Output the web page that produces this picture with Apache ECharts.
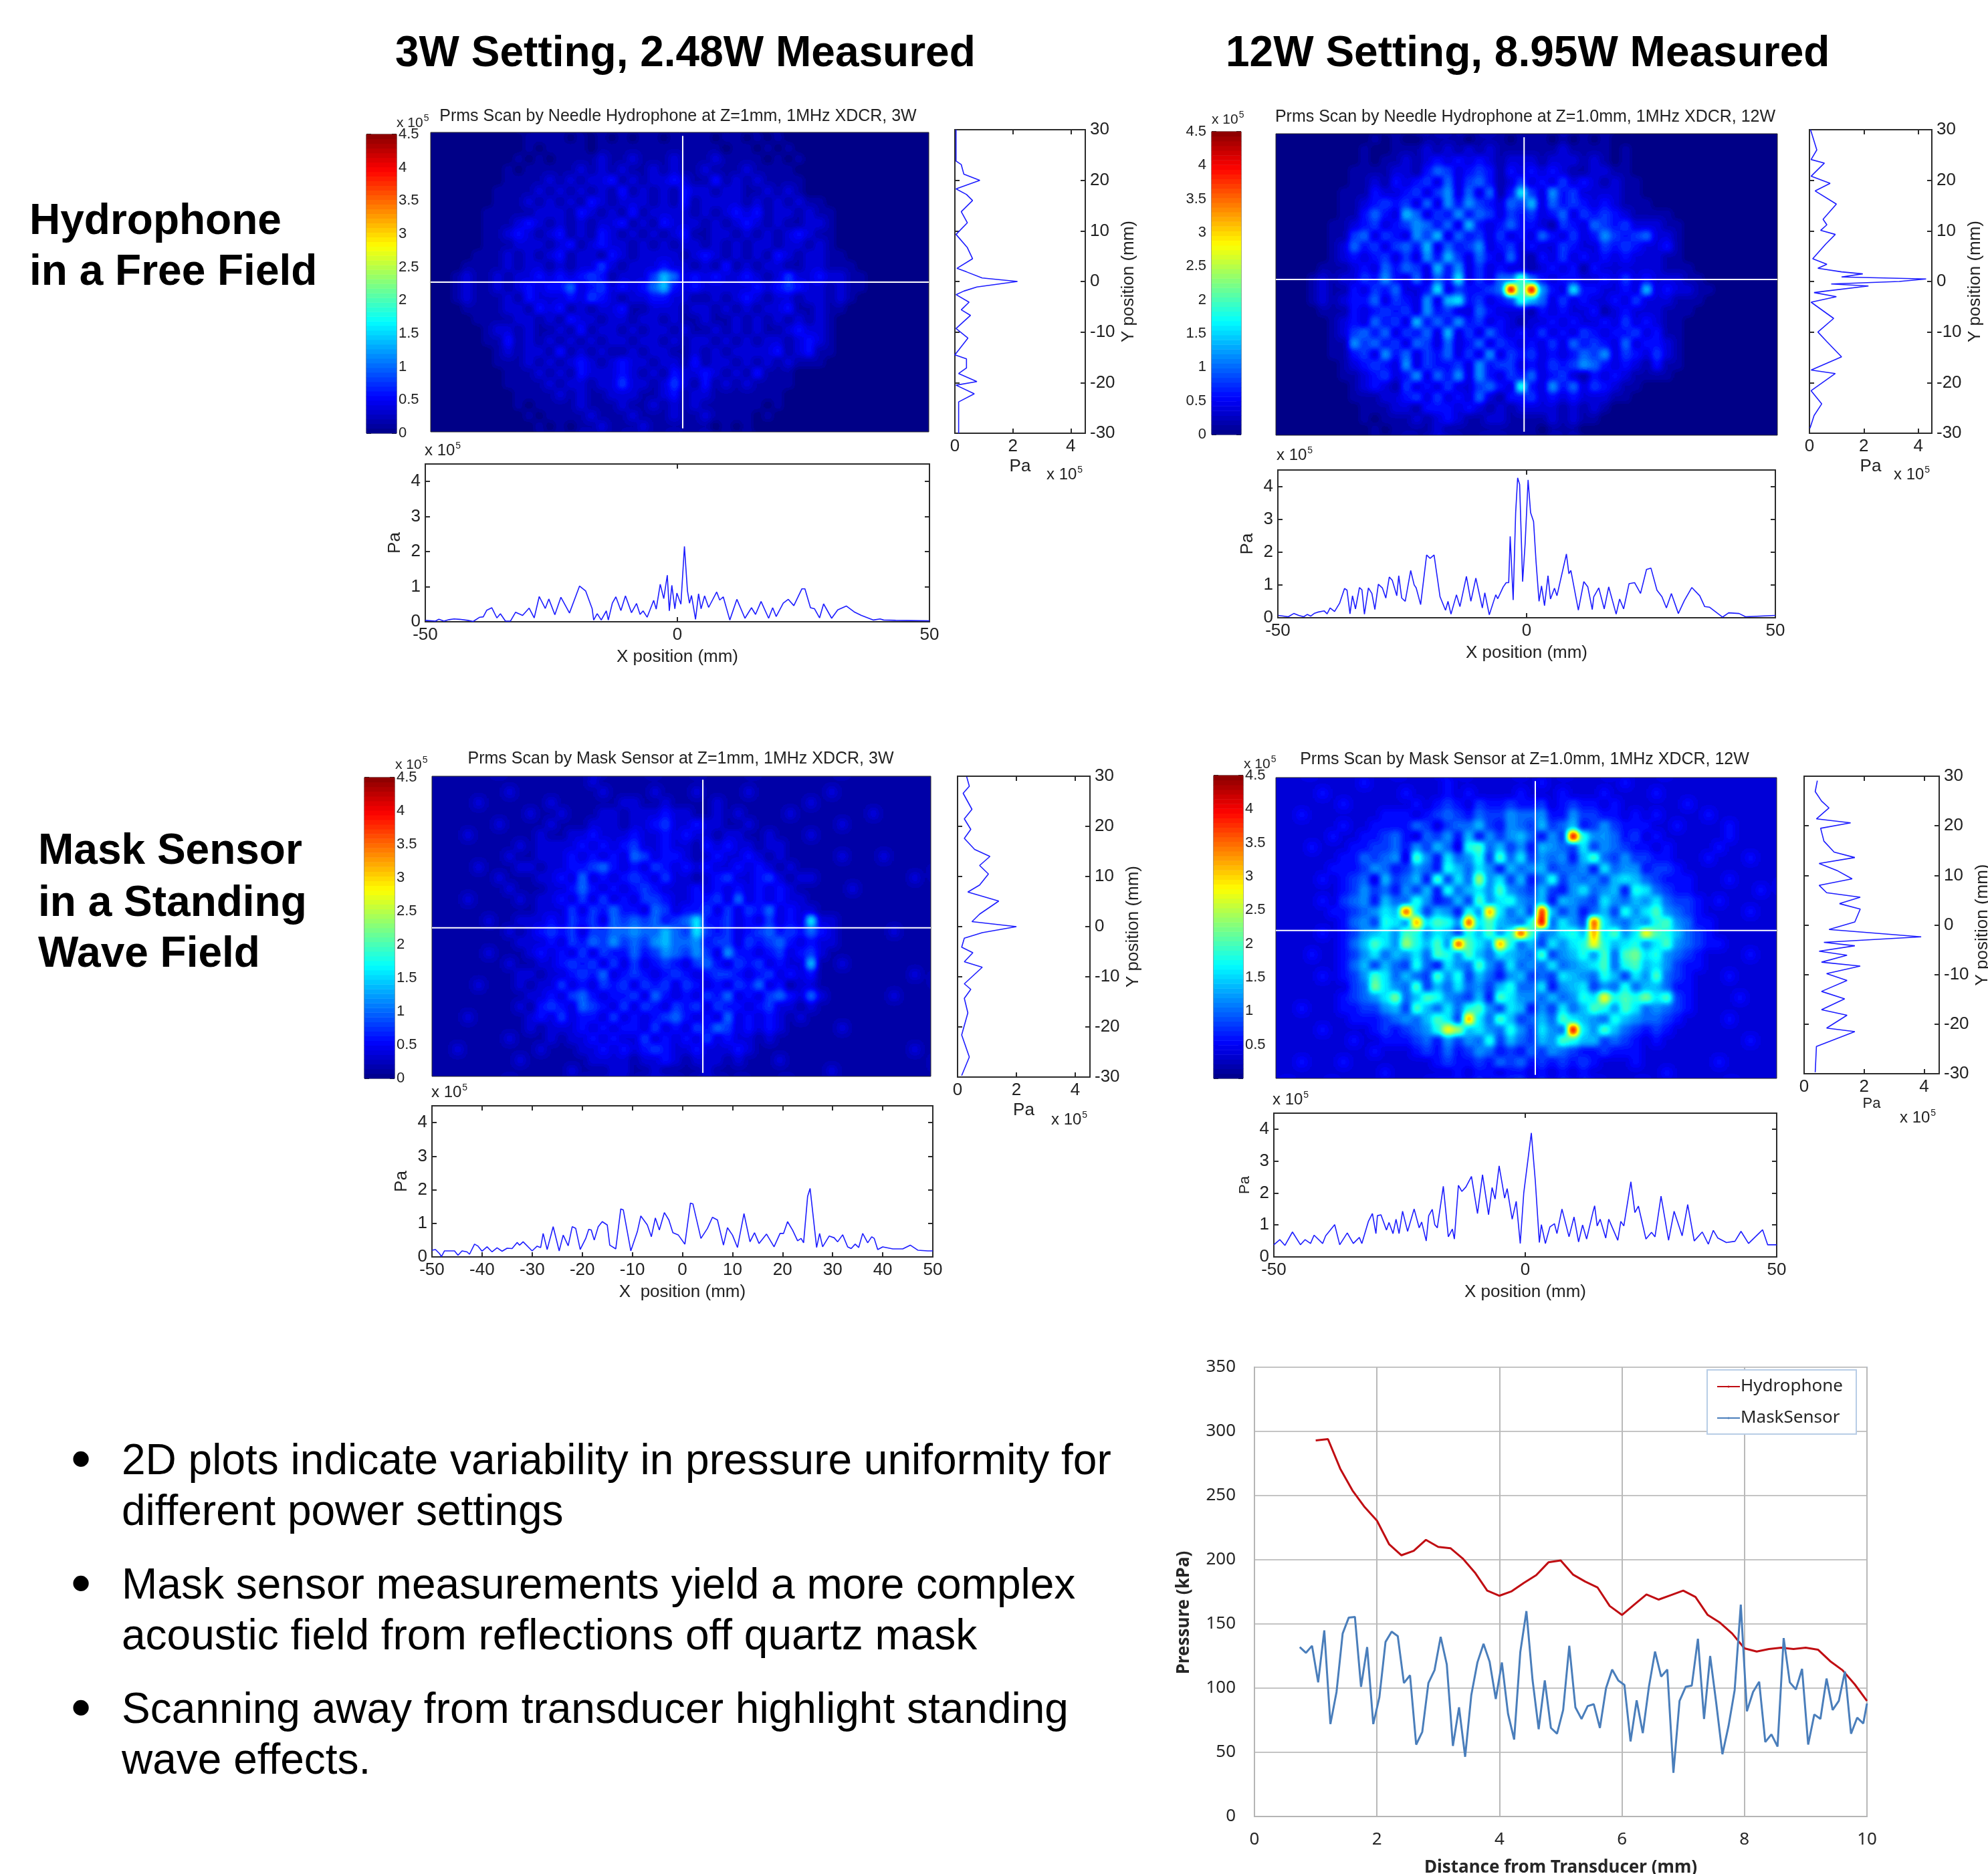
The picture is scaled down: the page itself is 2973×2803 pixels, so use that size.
<!DOCTYPE html>
<html><head><meta charset="utf-8"><title>Pressure scans</title>
<script src="https://cdn.jsdelivr.net/npm/echarts@6/dist/echarts.min.js"></script>
<style>html,body{margin:0;padding:0;background:#fff}#c{width:2973px;height:2803px}</style></head>
<body><div id="c"></div>
<script>
// ---- DATA (pressure in 1e5 Pa, position in mm) ----
const xProfileA=[[-50,.04],[-48,.02],[-47.3,.07],[-46.3,.02],[-45.3,.06],[-44.3,.08],[-43.2,.07],[-41.6,.04],[-40.5,.01],[-39.2,.13],[-38.5,.14],[-37.8,.33],[-36.8,.4],[-35.8,.11],[-35.1,.23],[-34.1,.02],[-33.1,.02],[-32.1,.27],[-30.7,.18],[-29.4,.39],[-28.4,.11],[-27.4,.72],[-26.2,.38],[-25.5,.65],[-24.3,.2],[-23.1,.7],[-21.4,.25],[-19.4,1.02],[-18.2,.88],[-16.9,.37],[-16.6,.05],[-15.9,.23],[-15.1,.05],[-14.1,.31],[-13.7,.05],[-12.9,.53],[-12.2,.71],[-11.2,.32],[-10.3,.74],[-9.1,.26],[-8.1,.52],[-7.4,.21],[-6.8,.31],[-6,.13],[-4.7,.61],[-4.2,.36],[-3.4,1.07],[-2.7,.66],[-2,1.33],[-1.6,.31],[-1.1,1.04],[-.5,.37],[-.1,.82],[.7,.5],[1.4,2.15],[2,.88],[2.4,.53],[2.8,.75],[3.6,.07],[4.2,.8],[4.7,.37],[5.4,.74],[6.2,.41],[7.8,.85],[8.4,.62],[9.1,.71],[10.4,.05],[11.8,.64],[13.4,.1],[14.7,.4],[15.5,.21],[16.6,.58],[18.1,.1],[18.9,.4],[19.6,.15],[21,.53],[22,.64],[23.1,.46],[24.7,.94],[25.3,.94],[26.4,.4],[27.2,.37],[28.2,.11],[29,.51],[30.6,.1],[31.8,.34],[33.5,.45],[35.2,.27],[36.5,.18],[38.9,.05],[40.2,.08],[40.9,.05],[43.3,.04],[50,.03]];
const xProfileB=[[-49.9,.07],[-47.9,.03],[-46.8,.13],[-45.8,.07],[-44.8,.03],[-44.1,.1],[-43.4,.05],[-42.7,.13],[-42,.17],[-40.7,.21],[-40.1,.12],[-39.5,.3],[-38.6,.19],[-37.6,.44],[-36.6,.89],[-36.1,.84],[-35.5,.12],[-35,.67],[-34.4,.27],[-33.6,.92],[-33.1,.85],[-32.6,.11],[-31.8,.91],[-31.1,.74],[-30.5,.25],[-29.8,1.02],[-29,.91],[-28.3,.6],[-27.6,1.24],[-27,1.14],[-26.1,.67],[-25.7,1.28],[-25.1,.6],[-24.4,.5],[-23.3,1.44],[-22.6,1],[-22.2,.91],[-21.3,.4],[-20.1,1.91],[-19.4,1.81],[-18.6,1.91],[-17.4,.64],[-16.3,.23],[-15.8,.5],[-15.2,.11],[-14.1,.7],[-13.4,.34],[-12.1,1.26],[-11.2,.5],[-10.2,1.21],[-8.9,.3],[-8.4,.76],[-7.5,.09],[-6.2,.7],[-5.8,.58],[-4.7,.94],[-4.1,1.07],[-3.6,1.07],[-3.3,2.48],[-2.7,.54],[-2.2,3.2],[-1.8,4.26],[-1.4,4.06],[-.8,1.1],[-.3,2.25],[.3,4.2],[.8,3.2],[1.4,2.93],[1.9,1.7],[2.5,.5],[3,.97],[3.6,.37],[4.3,1.28],[4.8,.57],[5.6,.9],[6.1,.67],[8,1.94],[8.5,1.34],[8.9,1.44],[10.4,.23],[11.5,1.1],[12.3,.94],[13.2,.25],[13.5,.64],[14.5,.91],[15.6,.27],[16.5,.94],[18,.11],[18.7,.57],[19.5,.27],[20.6,1.04],[21.7,1.07],[22.9,.74],[24.1,1.47],[25,1.51],[26.2,.84],[27.2,.64],[28.1,.3],[29.1,.74],[30.5,.13],[31.7,.52],[33.2,.92],[34.8,.67],[35.8,.34],[36.8,.32],[39.4,.02],[40.6,.15],[42.7,.13],[44,.03],[50,.07]];
const xProfileC=[[-50,.2],[-49.3,.22],[-48.5,.1],[-48.1,.01],[-47.5,.18],[-45.5,.18],[-44.8,.05],[-44,.18],[-43,.15],[-42.5,.08],[-41.5,.38],[-40.8,.32],[-40,.17],[-39,.3],[-38,.15],[-37,.27],[-36,.17],[-35,.26],[-34,.25],[-33,.43],[-32.5,.35],[-31.8,.45],[-30,.18],[-29,.32],[-28.3,.28],[-27.8,.7],[-27,.22],[-25.8,.9],[-24.6,.18],[-23.8,.65],[-22.8,.33],[-22,.9],[-21.3,.85],[-20.4,.22],[-19.3,.55],[-18.7,.82],[-18.2,.8],[-17.6,.5],[-16.8,.9],[-16,1.05],[-15,.95],[-14.5,.35],[-13.3,.24],[-12.3,1.43],[-11.8,1.4],[-10.3,.18],[-9,.75],[-8.3,1.22],[-7,.95],[-6.2,.6],[-5.4,1.16],[-4.6,.8],[-3.6,1.32],[-2.7,1.1],[-1.9,.72],[-.8,.65],[.5,.38],[1.6,1.6],[2.1,1.58],[3.7,.55],[5,.85],[6,1.18],[7,1.1],[8.2,.35],[9,.87],[10,.65],[11,.28],[12.3,1.29],[13.5,.45],[14.4,.72],[15.3,.4],[16.8,.68],[18.3,.3],[19.5,.7],[20.2,.7],[21,1.05],[22,.8],[23,.48],[23.7,.55],[24.2,.42],[25,1.8],[25.5,2.04],[26.8,.28],[27.4,.7],[28,.3],[29.3,.62],[30.3,.57],[31,.45],[32,.66],[33,.3],[33.7,.25],[34.5,.38],[35.2,.28],[36,.7],[37,.42],[37.8,.6],[38.3,.55],[39,.22],[40,.3],[42,.24],[44,.24],[45.5,.35],[47,.2],[49,.18],[50,.18]];
const xProfileD=[[-50,.38],[-48.8,.54],[-47.8,.36],[-46.3,.78],[-44.7,.38],[-43.8,.54],[-42.7,.42],[-42,.68],[-40.3,.42],[-39.7,.66],[-37.9,1.01],[-36.9,.38],[-35.4,.75],[-34.2,.42],[-33,.61],[-32.5,.42],[-31.2,1.11],[-30.4,1.36],[-29.7,.73],[-29.4,1.29],[-28.7,1.32],[-27.6,.84],[-27.1,1.08],[-26.3,.73],[-25.7,1.18],[-25.1,.73],[-24.4,1.43],[-23.4,.8],[-22.1,1.5],[-21.1,.91],[-20.6,1.09],[-19.7,.5],[-19.2,1.29],[-18.5,1.49],[-18,1.01],[-17.5,.91],[-16.3,2.21],[-15.3,.63],[-14.5,.87],[-14.1,.56],[-13.3,2.24],[-12.6,2.05],[-11.8,2.19],[-10.7,2.52],[-9.5,1.36],[-8.5,2.57],[-7.3,1.32],[-6.6,2.17],[-6,1.81],[-5.2,2.85],[-4.1,1.84],[-3.6,2.14],[-2.6,1.18],[-1.8,1.74],[-1,.42],[-.3,2],[1.2,3.88],[2,2.37],[2.8,.45],[3.2,1.01],[4,.42],[4.9,.94],[5.8,1.04],[6.3,.73],[7.3,1.5],[8.7,.63],[9.7,1.25],[10.6,.47],[11.4,1],[12.2,.56],[13.5,1.43],[13.8,1.6],[14.3,.97],[14.9,1.18],[16,.59],[16.6,1.18],[18.4,.52],[19,1.11],[19.6,.97],[21,2.35],[21.8,1.39],[22.5,1.59],[24,.56],[25.1,.77],[25.8,.63],[27,1.9],[28.5,.52],[29.6,1.43],[31.2,.66],[32.3,1.64],[33.6,.5],[35.2,.78],[36.4,.4],[37.4,.83],[38.3,.59],[40,.45],[41.7,.49],[42.9,.8],[44.4,.42],[47.2,.85],[48.2,.38],[50,.38]];
const yProfileA=[[.04,30],[.04,23.8],[.22,23.1],[.31,21.2],[.86,20],[.04,18.3],[.4,17.2],[.61,16],[.22,13.8],[.43,11.6],[.04,9.3],[.43,6.7],[.61,4.5],[.07,2.6],[.4,1.9],[.94,.7],[2.16,0],[.76,-1.1],[.31,-1.9],[.04,-2.6],[.49,-4.1],[.22,-5.6],[.54,-6.7],[.04,-9.3],[.45,-11.2],[0,-14.5],[.4,-15.3],[.4,-17.1],[.13,-18.2],[.76,-19.8],[.04,-20.5],[.67,-22.2],[.13,-23.8],[.13,-30]];
const yProfileB=[[.04,30],[.27,26],[.06,24.1],[.55,23.4],[.06,20.8],[.76,19.4],[.21,17.9],[.99,15.3],[.5,12.3],[.64,11.2],[.41,10.1],[.95,9.3],[.6,7.4],[.12,4.5],[.64,3.4],[.31,2.6],[1.18,1.9],[1.96,1.5],[1.18,.9],[4.29,.5],[3.3,0],[.8,-.5],[2.17,-.9],[.6,-1.9],[.17,-2.2],[.99,-3],[.06,-4.1],[.89,-7.3],[.31,-10],[.64,-11.9],[1.18,-14.9],[.06,-17.5],[.95,-18.2],[.06,-21.6],[.45,-24.2],[.17,-26.5],[.02,-29]];
const yProfileC=[[.31,29.9],[.4,28],[.19,26.6],[.49,23.4],[.23,21.5],[.45,19.4],[.23,17.6],[.58,15.4],[1.1,14],[.75,12.2],[1.05,10.5],[.75,8.3],[.35,6.9],[1.4,5.1],[.75,2.5],[.49,1],[2,0],[.84,-1.2],[.23,-2.3],[.14,-4.1],[.52,-5.2],[.23,-7],[.84,-8.1],[.23,-11.4],[.45,-12.5],[.23,-14.3],[.35,-17.2],[.14,-21.6],[.4,-26],[.14,-29.7]];
const yProfileD=[[.44,29.1],[.37,26.9],[.58,25],[.83,23.6],[.41,21.4],[1.55,20.6],[.55,19.5],[.66,16.9],[1,14.7],[1.69,13.6],[.5,12.4],[1.09,11],[1.6,9.3],[.5,8],[.75,6.5],[1.87,5.6],[1.18,4.3],[1.87,3.2],[1.69,.6],[.83,-.9],[3.9,-2.4],[.66,-3.5],[1.69,-4.2],[.5,-5.3],[1.43,-6.1],[.58,-7.5],[1.87,-8.3],[.75,-9.8],[1.43,-11.2],[.58,-13.4],[1.35,-14.9],[.58,-17.1],[1.43,-18.2],[.75,-20.8],[1.69,-21.5],[.41,-24.5],[.37,-29.7]];
// heatmap cells: one character per cell, read by eye; 0-9 then a-k, each step 0.2e5 Pa
const heatA=[
"000000 000111 101010 101101 111011 010100 000000 000000",
"000000 000101 111011 111111 111101 101010 000000 000000",
"000000 001010 111121 121112 111211 110101 000000 000000",
"000000 010111 112121 211212 112111 211110 000000 000000",
"000000 011112 121223 121223 211312 121111 000000 000000",
"000000 111121 212121 312121 322122 112121 000000 000000",
"000000 111212 121321 222121 312222 121212 110000 000000",
"000001 111122 213212 131222 212123 231221 211000 000000",
"000001 112321 212122 312132 221212 321211 221000 000000",
"000001 123212 312132 121212 311221 212123 211000 000000",
"000001 112221 231232 212121 221212 122122 121000 000000",
"000011 121212 312213 212222 123212 121321 221100 000000",
"000111 121221 212242 122232 212131 212211 221110 000000",
"001211 212232 323431 222475 232322 321242 232211 000000",
"001211 212323 352342 323573 232222 232343 221211 000000",
"001211 121322 232432 122332 211212 321221 221210 000000",
"000111 122132 312122 311222 122121 212231 121100 000000",
"000011 112212 132212 212212 112112 121212 121000 000000",
"000001 221211 213122 121221 211212 121123 221000 000000",
"000001 131212 121212 212212 122121 212212 321000 000000",
"000000 121221 312121 121221 121212 222312 311000 000000",
"000000 111212 123212 322122 131221 212121 110000 000000",
"000000 011121 213222 321213 223212 131110 000000 000000",
"000000 011112 122122 422124 213121 211110 000000 000000",
"000000 001111 212112 221123 122111 111100 000000 000000",
"000000 001011 112111 211212 121111 110100 000000 000000",
"000000 000101 111211 121112 112111 101000 000000 000000",
"000000 000010 101121 112111 111010 100000 000000 000000"];
const heatB=[
"000000 000101 001111 011101 110101 010000 000000 000000",
"000000 001001 112121 212111 111211 110100 000000 000000",
"000000 001011 212323 232122 212221 210100 000000 000000",
"000000 011112 213542 343132 323211 221100 000000 000000",
"000000 011213 234252 453124 232423 212110 000000 000000",
"000000 111322 342462 525138 426342 222110 000000 000000",
"000000 112343 425263 643254 725343 232111 000000 000000",
"000000 113532 752436 354243 423524 343211 110000 000000",
"000001 123423 465352 732353 321432 543422 211000 000000",
"000001 145243 264725 342423 253242 364345 221000 000000",
"000001 253424 537253 462342 322432 243432 231000 000000",
"000001 232342 426374 253252 132423 232322 211000 000000",
"000011 123253 542736 242322 123231 322222 211100 000000",
"000121 224363 252538 24255a 532332 232423 222110 000000",
"000121 132435 223824 3345k9 k63283 322327 232211 000000",
"000121 233524 326278 342349 752423 223242 221110 000000",
"000011 132343 426342 253222 132322 312322 211100 000000",
"000001 232534 273536 342321 223232 232423 211000 000000",
"000001 245352 435272 425323 242324 323342 311000 000000",
"000001 164534 254252 352432 324253 432523 321000 000000",
"000001 134263 524352 426243 423235 462432 421000 000000",
"000000 123432 624334 263442 324346 532321 311000 000000",
"000000 112342 362536 263243 523421 323211 110000 000000",
"000000 012321 423242 245329 326352 432110 000000 000000",
"000000 011122 342423 252133 423232 221100 000000 000000",
"000000 001112 213332 321212 222121 210000 000000 000000",
"000000 001011 121232 112211 112121 100000 000000 000000",
"000000 000101 111211 111111 101110 000000 000000 000000"];
const heatC=[
"111111 111111 111211 111111 111111 111111 111111 111111",
"111111 121111 111121 111211 121111 211111 112111 111111",
"111121 111112 111111 221121 111211 111111 211111 111111",
"111111 111211 211122 122232 211212 111121 111111 211111",
"111111 211112 111222 122342 232211 211111 111211 111111",
"111211 111121 122322 232232 322122 112111 211111 111111",
"111111 112122 223232 342232 213232 212211 111111 111111",
"111111 121122 232323 254233 212322 321211 111211 121111",
"111121 112212 233453 232432 323223 232121 111111 111111",
"111111 211122 325232 343242 212342 234212 211111 111121",
"111111 121112 235323 234322 232323 232321 111121 111111",
"111211 112122 324242 324432 233425 232322 111111 111111",
"111111 111122 242435 332542 334242 435232 211111 111111",
"111112 112223 243425 454534 583342 324232 822111 111111",
"111111 121234 342445 565575 484342 345343 532111 112111",
"111111 112223 243546 454675 563442 434532 322111 111111",
"111112 111232 324243 353465 464263 323423 421111 111111",
"111111 121122 343424 242343 245324 342322 711211 111111",
"111111 112212 234352 343234 323443 234232 311111 111121",
"111121 112122 423243 424342 432324 352312 211111 111111",
"111111 111223 245323 342532 324352 324532 521111 112111",
"111111 112134 325432 424324 342433 234221 211111 111111",
"111211 111232 423324 232345 323252 323212 111111 111111",
"111111 111212 223232 332423 243542 323211 111211 111111",
"111111 121112 122323 224232 324232 212111 111111 111111",
"112111 111121 112232 323432 232223 211111 111111 111121",
"111111 112111 111222 212232 122212 111211 111111 111111",
"111111 111111 121112 211211 112111 111111 112111 111111"];
const heatD=[
"222222 223222 222232 222222 232222 222322 222222 222222",
"222232 222222 322232 322223 222322 232222 322222 222222",
"222222 322222 232343 243343 342343 323222 222322 222222",
"223222 222233 323454 354465 563364 433232 322223 222222",
"222222 322333 354245 574365 474573 464333 223222 232222",
"222223 223345 325463 736467 5364k9 665342 322222 232222",
"222322 233445 364752 9a5746 376548 465433 232222 322222",
"222222 335456 2a6385 694a58 465637 a54644 332223 222322",
"222223 334653 465397 586375 674556 385663 443222 222222",
"222232 345274 573a48 5c6847 359465 647875 433322 232222",
"222222 346453 647395 786a65 474368 567398 543322 222232",
"222232 456375 596347 4a6896 573765 486576 854432 322222",
"222223 345687 i84763 96g857 4j7463 574968 a65432 222322",
"222222 356498 6g8a96 i8a765 9k5864 i86576 9a6533 222222",
"222232 346786 a96874 97a69i a56897 g8a68e a97543 222222",
"222222 357a86 c97a6i a86g95 748689 e97896 8a6543 322222",
"222322 346857 685a96 a75876 5a4679 6a5ab8 965432 222322",
"222222 357475 495386 5a6485 658567 8a59a7 864332 222222",
"222232 346a85 754a69 475367 454876 597486 a54322 232222",
"222222 245b86 5a4758 564795 583678 465957 753322 222222",
"222222 34568b 57a965 473a86 657569 8e9a9b 8a4322 223222",
"223222 334467 4a7585 9a6487 364857 a96a85 654322 222222",
"222222 233345 657a84 g85a74 575a87 659765 543222 232222",
"222232 222343 4569ec 786596 4865k8 6a7543 432222 222222",
"222222 232233 345364 659475 476a97 745432 322222 222322",
"222222 222322 234353 465343 546543 343332 222222 222222",
"223222 322222 222343 343545 343434 322232 222222 322222",
"222222 222232 222223 233233 232323 222222 232222 222222"];
// crosshair position (x mm, y mm) of each scan
const crossA=[0.6,0], crossB=[-0.5,1], crossC=[4.3,-0.3], crossD=[1.8,-0.5];
// distance scan (mm, kPa)
const distHydrophone=[1,1.2,1.4,1.6,1.8,2,2.2,2.4,2.6,2.8,3,3.2,3.4,3.6,3.8,4,4.2,4.4,4.6,4.8,5,5.2,5.4,5.6,5.8,6,6.2,6.4,6.6,6.8,7,7.2,7.4,7.6,7.8,8,8.2,8.4,8.6,8.8,9,9.2,9.4,9.6,9.8,10];
const hydrophoneKPa=[293,294,271,254,241,230.5,212,203.5,207,215.5,210,209,201,190,176,172,175.5,182,188,198,199.5,188.5,183,178.5,164,157,165,173,169,172.5,176,171,157,151,142.5,131,128.5,130.5,131.5,130.5,131.5,130,121,114,103,90];
const distMask=[.74,.84,.94,1.04,1.14,1.24,1.34,1.44,1.54,1.64,1.74,1.84,1.94,2.04,2.14,2.24,2.34,2.44,2.54,2.64,2.74,2.84,2.94,3.04,3.14,3.24,3.34,3.44,3.54,3.64,3.74,3.84,3.94,4.04,4.14,4.24,4.34,4.44,4.54,4.64,4.74,4.84,4.94,5.04,5.14,5.24,5.34,5.44,5.54,5.64,5.74,5.84,5.94,6.04,6.14,6.24,6.34,6.44,6.54,6.64,6.74,6.84,6.94,7.04,7.14,7.24,7.34,7.44,7.54,7.64,7.74,7.84,7.94,8.04,8.14,8.24,8.34,8.44,8.54,8.64,8.74,8.84,8.94,9.04,9.14,9.24,9.34,9.44,9.54,9.64,9.74,9.84,9.94,10];
const maskKPa=[132,127.5,133,104.5,145,72,97,142.5,155,155.5,101,132,72,93,136,144,140.5,104,110,56,66,104,114,140,118.5,55,85,46.5,94.5,120,134.5,120.5,91.5,120,80,60,128,160,106.5,68,106,69,64.5,83,133,85,76,86,87.5,69,100,114.5,106,102.5,58.5,90.5,65,101,128.5,109,114.5,34,90,101,102,138.5,76,125,88,48.5,70.5,98.5,165,82,97,105,58,64,54.5,139,104.5,99,115,56,79.5,76,107.5,83,90,113,64.5,77,72.5,88];
// tick labels
const pressureTicks=[0,1,2,3,4], sideTicks=[0,2,4], yTicks=[-30,-20,-10,0,10,20,30];
const xTicksWide=[-50,0,50], xTicksFine=[-50,-40,-30,-20,-10,0,10,20,30,40,50];
const barTicks=[0,.5,1,1.5,2,2.5,3,3.5,4,4.5], barTicksNoZero=[.5,1,1.5,2,2.5,3,3.5,4,4.5];
const titleA="Prms Scan by Needle Hydrophone at Z=1mm, 1MHz XDCR, 3W";
const titleB="Prms Scan by Needle Hydrophone at Z=1.0mm, 1MHz XDCR, 12W";
const titleC="Prms Scan by Mask Sensor at Z=1mm, 1MHz XDCR, 3W";
const titleD="Prms Scan by Mask Sensor at Z=1.0mm, 1MHz XDCR, 12W";
const bullets=[["2D plots indicate variability in pressure uniformity for","different power settings"],["Mask sensor measurements yield a more complex","acoustic field from reflections off quartz mask"],["Scanning away from transducer highlight standing","wave effects."]];

// ---- LAYOUT ----
const panels=[
 {title:titleA,tx:1014,ty:174,heat:heatA,cross:crossA,xp:xProfileA,yp:yProfileA,xticks:xTicksWide,xname:'X position (mm)',bticks:barTicks,bside:'right',
  H:[644,198,745,448],B:[548,201,45,447],S:[1428,194,195,454],X:[636,694,754,236],cv:[593,184],xv:[635,674],sv:[1565,710],pa:26},
 {title:titleB,tx:2281,ty:175,heat:heatB,cross:crossB,xp:xProfileB,yp:yProfileB,xticks:xTicksWide,xname:'X position (mm)',bticks:barTicks,bside:'left',
  H:[1908,200,750,451],B:[1812,197,44,453],S:[2706,194,183,454],X:[1911,703,744,221],cv:[1812,179],xv:[1909,681],sv:[2832,710],pa:26},
 {title:titleC,tx:1018,ty:1135,heat:heatC,cross:crossC,xp:xProfileC,yp:yProfileC,xticks:xTicksFine,xname:'X  position (mm)',bticks:barTicks,bside:'right',
  H:[646,1161,746,449],B:[545,1163,45,450],S:[1432,1161,198,450],X:[646,1654,749,226],cv:[591,1144],xv:[645,1634],sv:[1572,1675],pa:26},
 {title:titleD,tx:2280,ty:1136,heat:heatD,cross:crossD,xp:xProfileD,yp:yProfileD,xticks:xTicksWide,xname:'X position (mm)',bticks:barTicksNoZero,bside:'right',
  H:[1908,1163,749,450],B:[1815,1160,44,453],S:[2698,1161,202,445],X:[1905,1665,752,215],cv:[1860,1143],xv:[1903,1645],sv:[2841,1672],pa:22}
];
const FONT='"Liberation Sans",Arial,sans-serif', INK='#222', LINE='#1c1cff';
const grid=[],xAxis=[],yAxis=[],series=[],title=[],graphic=[],scanIdx=[],barIdx=[];
const jetRGB=[];for(let i=0;i<64;i++){const t=(i+.5)/64;const c=v=>Math.round(255*Math.max(0,Math.min(1,v)));
  jetRGB.push([c(1.5-Math.abs(4*t-3)),c(1.5-Math.abs(4*t-2)),c(1.5-Math.abs(4*t-1))]);}
const jet=jetRGB.map(c=>`rgb(${c[0]},${c[1]},${c[2]})`);
const CHARS='0123456789abcdefghijk';
const colNames=Array.from({length:48},(_,i)=>String(i)), rowNames=Array.from({length:28},(_,i)=>String(i));
function addGrid(b,borderWidth){grid.push({left:b[0],top:b[1],width:b[2],height:b[3],show:true,backgroundColor:'transparent',borderColor:'#2b2b2b',borderWidth,containLabel:false,outerBoundsMode:'none'});return grid.length-1;}
function push(arr,o){arr.push(o);return arr.length-1;}
function valAxis(g,pos,min,max,ticks,extra){
  return Object.assign({type:'value',gridIndex:g,position:pos,min,max,scale:false,splitLine:{show:false},axisLine:{show:false,onZero:false},
    axisTick:{show:true,inside:true,length:7,customValues:ticks,lineStyle:{color:'#2b2b2b',width:2}},
    axisLabel:{show:false,customValues:ticks,fontFamily:FONT,fontSize:26,color:INK,margin:7}},extra||{});
}
function labelled(a,o){a.axisLabel=Object.assign(a.axisLabel,{show:true},o||{});return a;}
function mult(x,y,size){graphic.push({type:'text',x,y,silent:true,style:{text:'{a|x 10}{b|5}',rich:{a:{fontFamily:FONT,fontSize:size||24,fill:INK,color:INK},b:{fontFamily:FONT,fontSize:14,fill:INK,color:INK,padding:[0,0,14,1]}},verticalAlign:'middle',align:'left'}});}
panels.forEach(p=>{
  title.push({text:p.title,left:p.tx,top:p.ty-12,textAlign:'center',padding:0,textStyle:{fontFamily:FONT,fontWeight:'normal',fontSize:25,color:INK}});
  // scan map: drawn in a bottom layer as intensity, smoothed and coloured once rendered
  const g=addGrid(p.H,1);
  const hx=push(xAxis,{type:'category',gridIndex:g,data:colNames,show:false,boundaryGap:true});
  const hy=push(yAxis,{type:'category',gridIndex:g,data:rowNames,show:false,inverse:true,boundaryGap:true});
  const cells=[];p.heat.forEach((r,j)=>{r.replace(/ /g,'').split('').forEach((ch,i)=>cells.push([i,j,CHARS.indexOf(ch)*0.2]));});
  scanIdx.push(series.length);
  series.push({type:'heatmap',zlevel:-1,xAxisIndex:hx,yAxisIndex:hy,data:cells,silent:true,progressive:0,emphasis:{disabled:true}});
  const vx=push(xAxis,{type:'value',gridIndex:g,min:-50,max:50,show:false});
  const vy=push(yAxis,{type:'value',gridIndex:g,min:-30,max:30,show:false});
  const ws={color:'#fff',width:2};
  series.push({type:'line',xAxisIndex:vx,yAxisIndex:vy,symbol:'none',silent:true,lineStyle:ws,data:[[-50,p.cross[1]],[50,p.cross[1]]]});
  series.push({type:'line',xAxisIndex:vx,yAxisIndex:vy,symbol:'none',silent:true,lineStyle:ws,data:[[p.cross[0],-29.3],[p.cross[0],29.3]]});
  // colour bar
  const bg=addGrid(p.B,1);
  const levels=jet.map((_,i)=>i);
  const bx=push(xAxis,{type:'category',gridIndex:bg,data:['0'],show:false});
  const by=push(yAxis,{type:'category',gridIndex:bg,data:levels,show:false});
  barIdx.push(series.length);
  series.push({type:'heatmap',xAxisIndex:bx,yAxisIndex:by,data:levels.map(i=>[0,i,(i+.5)*4.5/64]),silent:true,progressive:0,emphasis:{disabled:true}});
  const opp=p.bside==='left'?'right':'left';
  yAxis.push(labelled(valAxis(bg,p.bside,0,4.5,barTicks),{customValues:p.bticks,fontSize:22,margin:p.bside==='left'?8:3}));
  yAxis.push(valAxis(bg,opp,0,4.5,barTicks));
  // side profile (pressure vs Y)
  const sg=addGrid(p.S,2);
  const sx=push(xAxis,labelled(valAxis(sg,'bottom',0,4.5,sideTicks,{name:'Pa',nameLocation:'middle',nameGap:p.pa===22?30:37,nameTextStyle:{fontFamily:FONT,fontSize:p.pa,color:INK}})));
  xAxis.push(valAxis(sg,'top',0,4.5,sideTicks));
  const sy=push(yAxis,labelled(valAxis(sg,'right',-30,30,yTicks,{name:'Y position (mm)',nameLocation:'middle',nameGap:52,nameRotate:90,nameTextStyle:{fontFamily:FONT,fontSize:26,color:INK}})));
  yAxis.push(valAxis(sg,'left',-30,30,yTicks));
  series.push({type:'line',xAxisIndex:sx,yAxisIndex:sy,symbol:'none',silent:true,lineStyle:{color:LINE,width:1.6},data:p.yp});
  // x profile
  const xg=addGrid(p.X,2);
  const xx=push(xAxis,labelled(valAxis(xg,'bottom',-50,50,p.xticks,{name:p.xname,nameLocation:'middle',nameGap:40,nameTextStyle:{fontFamily:FONT,fontSize:26,color:INK}})));
  xAxis.push(valAxis(xg,'top',-50,50,p.xticks));
  const xy=push(yAxis,labelled(valAxis(xg,'left',0,4.5,pressureTicks,{name:'Pa',nameLocation:'middle',nameGap:32,nameRotate:90,nameTextStyle:{fontFamily:FONT,fontSize:p.pa,color:INK}})));
  yAxis.push(valAxis(xg,'right',0,4.5,pressureTicks));
  series.push({type:'line',xAxisIndex:xx,yAxisIndex:xy,symbol:'none',silent:true,lineStyle:{color:LINE,width:1.6},data:p.xp});
  mult(p.cv[0],p.cv[1],21);mult(p.xv[0],p.xv[1]);mult(p.sv[0],p.sv[1]);
});

// distance chart
const FONT2='"Noto Sans",Carlito,sans-serif';
const lg=addGrid([1876,2045,916,672],2);grid[lg].borderColor='#a9c2e0';
const lx=push(xAxis,{type:'value',gridIndex:lg,min:0,max:10,interval:2,axisLine:{show:true,onZero:false,lineStyle:{color:'#b5b5b5',width:2}},axisTick:{show:false},
  splitLine:{show:true,lineStyle:{color:'#b9b9b9',width:2}},axisLabel:{fontFamily:FONT2,fontSize:26,color:'#262626',margin:22},
  name:'Distance from Transducer (mm)',nameLocation:'middle',nameGap:64,nameTextStyle:{fontFamily:FONT2,fontWeight:'bold',fontSize:26,color:'#262626'}});
const ly=push(yAxis,{type:'value',gridIndex:lg,min:0,max:350,interval:50,axisLine:{show:true,onZero:false,lineStyle:{color:'#b5b5b5',width:2}},axisTick:{show:false},
  splitLine:{show:true,lineStyle:{color:'#c4c4c4',width:2}},axisLabel:{fontFamily:FONT2,fontSize:26,color:'#262626',margin:28},
  name:'Pressure (kPa)',nameLocation:'middle',nameGap:92,nameRotate:90,nameTextStyle:{fontFamily:FONT2,fontWeight:'bold',fontSize:26,color:'#262626',padding:[0,62,0,0]}});
series.push({name:'Hydrophone',type:'line',xAxisIndex:lx,yAxisIndex:ly,symbol:'none',silent:true,lineStyle:{color:'#c00d12',width:3},itemStyle:{color:'#c00d12'},data:distHydrophone.map((d,i)=>[d,hydrophoneKPa[i]])});
series.push({name:'MaskSensor',type:'line',xAxisIndex:lx,yAxisIndex:ly,symbol:'none',silent:true,lineStyle:{color:'#4a7ebb',width:3},itemStyle:{color:'#4a7ebb'},data:distMask.map((d,i)=>[d,maskKPa[i]])});

// free text
function txt(s,x,y,size,weight,align){graphic.push({type:'text',x,y,silent:true,style:{text:s,fontFamily:FONT,fontSize:size,fontWeight:weight||'normal',fill:'#000',verticalAlign:'middle',align:align||'left'}});}
txt('3W Setting, 2.48W Measured',591,81,64,'bold');
txt('12W Setting, 8.95W Measured',1833,81,64,'bold');
txt('Hydrophone',44,332,64,'bold');txt('in a Free Field',44,408,64,'bold');
txt('Mask Sensor',57,1274,64,'bold');txt('in a Standing',57,1352,64,'bold');txt('Wave Field',57,1428,64,'bold');
const by0=[2187,2373,2559];
bullets.forEach((b,i)=>{txt('•',121,by0[i],86,'normal','center');b.forEach((l,j)=>txt(l,182,by0[i]+j*76,64));});

const chart=echarts.init(document.getElementById('c'),null,{renderer:'canvas',width:2973,height:2803});
chart.setOption({animation:false,title,grid,xAxis,yAxis,series,graphic,
  visualMap:[
    {type:'continuous',show:false,min:0,max:4.5,dimension:2,seriesIndex:scanIdx,inRange:{color:['#000000','#ffffff']}},
    {type:'continuous',show:false,min:0,max:4.5,dimension:2,seriesIndex:barIdx,inRange:{color:jet}}],
  legend:{show:true,data:['Hydrophone','MaskSensor'],orient:'vertical',left:2553,top:2049,padding:[12,20,11,14],itemGap:21,itemWidth:34,itemHeight:4,
    backgroundColor:'#fff',borderColor:'#b8cde6',borderWidth:2,textStyle:{fontFamily:FONT2,fontSize:26,color:'#262626',padding:[0,0,0,-4]}},
  tooltip:{show:false}});

// smooth the scan cells in pressure space and apply the jet scale, on a canvas under the chart's layers
let overlay=null;
function smoothScans(){
  const layer=chart.getZr().painter.getLayer(-1);const src=layer.dom;const pad=24;
  if(!overlay){overlay=document.createElement('canvas');overlay.width=2973;overlay.height=2803;
    overlay.style.cssText='position:absolute;left:0;top:0;width:2973px;height:2803px;';
    src.parentNode.insertBefore(overlay,src);}
  const octx=overlay.getContext('2d');
  panels.forEach(p=>{
    const [x,y,w,h]=p.H;
    const a=document.createElement('canvas');a.width=w+2*pad;a.height=h+2*pad;
    const ac=a.getContext('2d');ac.drawImage(src,x,y,w,h,0,0,a.width,a.height);ac.drawImage(src,x,y,w,h,pad,pad,w,h);
    const b=document.createElement('canvas');b.width=a.width;b.height=a.height;
    const bc=b.getContext('2d',{willReadFrequently:true});bc.filter='blur(4.5px)';bc.drawImage(a,0,0);
    const img=bc.getImageData(pad,pad,w,h),d=img.data;
    for(let i=0;i<d.length;i+=4){const c=jetRGB[Math.min(63,Math.floor(d[i]/256*64))];d[i]=c[0];d[i+1]=c[1];d[i+2]=c[2];d[i+3]=255;}
    octx.putImageData(img,x,y);
  });
  src.style.visibility='hidden';
}
chart.getZr().flush();
smoothScans();
chart.on('finished',smoothScans);
</script></body></html>
